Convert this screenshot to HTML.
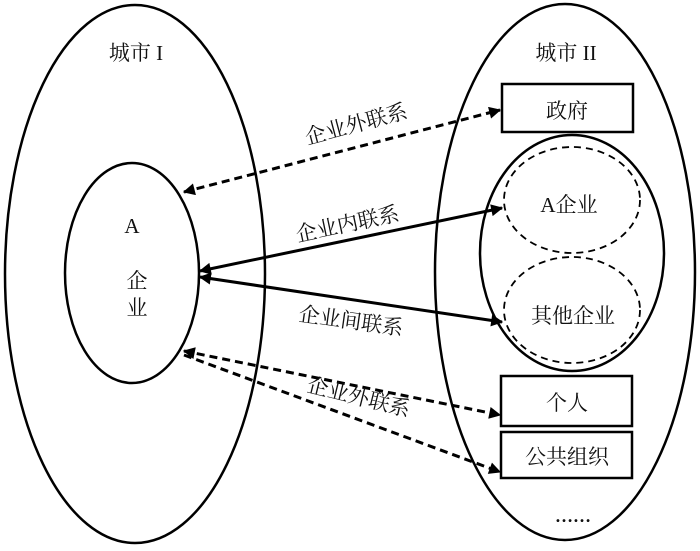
<!DOCTYPE html>
<html><head><meta charset="utf-8"><style>
html,body{margin:0;padding:0;background:#fff}
svg text{font-family:"Liberation Serif","Noto Serif CJK SC","Noto Sans CJK SC",serif;fill:#111}
</style></head><body>
<svg width="700" height="546" viewBox="0 0 700 546" xmlns="http://www.w3.org/2000/svg">
<defs>
<marker id="ah" viewBox="0 0 10 10" refX="9" refY="5" markerWidth="18" markerHeight="12" markerUnits="userSpaceOnUse" orient="auto-start-reverse">
<path d="M0,0 L10,5 L0,10 z" fill="#000"/></marker>
</defs>
<g fill="none" stroke="#000" stroke-width="2.5">
<ellipse cx="135" cy="274" rx="130" ry="269"/>
<ellipse cx="132" cy="273" rx="67" ry="110"/>
<ellipse cx="565" cy="272" rx="130" ry="268"/>
<ellipse cx="572" cy="253" rx="92" ry="118"/>
<rect x="502" y="84" width="131" height="48" fill="#fff"/>
<rect x="501" y="376" width="131" height="50" fill="#fff"/>
<rect x="501" y="432" width="131" height="46" fill="#fff"/>
</g>
<g fill="none" stroke="#000" stroke-width="1.8" stroke-dasharray="7,5">
<ellipse cx="572" cy="200" rx="68" ry="53"/>
<ellipse cx="572" cy="310" rx="68" ry="53"/>
</g>
<g stroke="#000" stroke-width="3" fill="none">
<line x1="184" y1="192" x2="500" y2="110" stroke-dasharray="8,5" marker-start="url(#ah)" marker-end="url(#ah)"/>
<line x1="200" y1="271" x2="502" y2="208" marker-start="url(#ah)" marker-end="url(#ah)"/>
<line x1="200" y1="277" x2="502" y2="322" marker-start="url(#ah)" marker-end="url(#ah)"/>
<line x1="184" y1="351" x2="500" y2="415" stroke-dasharray="8,5" marker-start="url(#ah)" marker-end="url(#ah)"/>
<line x1="184" y1="355" x2="500" y2="472" stroke-dasharray="8,5"  marker-end="url(#ah)"/>
</g>
<g font-size="21" text-anchor="middle">
<text x="136" y="60">城市 I</text>
<text x="566" y="60">城市 II</text>
<text x="132" y="233">A</text>
<text x="137" y="288">企</text>
<text x="137" y="315">业</text>
<text x="567" y="118">政府</text>
<text x="569" y="212">A企业</text>
<text x="573" y="323">其他企业</text>
<text x="567" y="410">个人</text>
<text x="567" y="464">公共组织</text>
<text x="573" y="522" font-size="18" font-weight="bold">……</text>
<text transform="translate(358,131) rotate(-15)">企业外联系</text>
<text transform="translate(349,231) rotate(-12)">企业内联系</text>
<text transform="translate(350,328) rotate(8)">企业间联系</text>
<text transform="translate(357,404) rotate(14)">企业外联系</text>
</g>
</svg>
</body></html>
